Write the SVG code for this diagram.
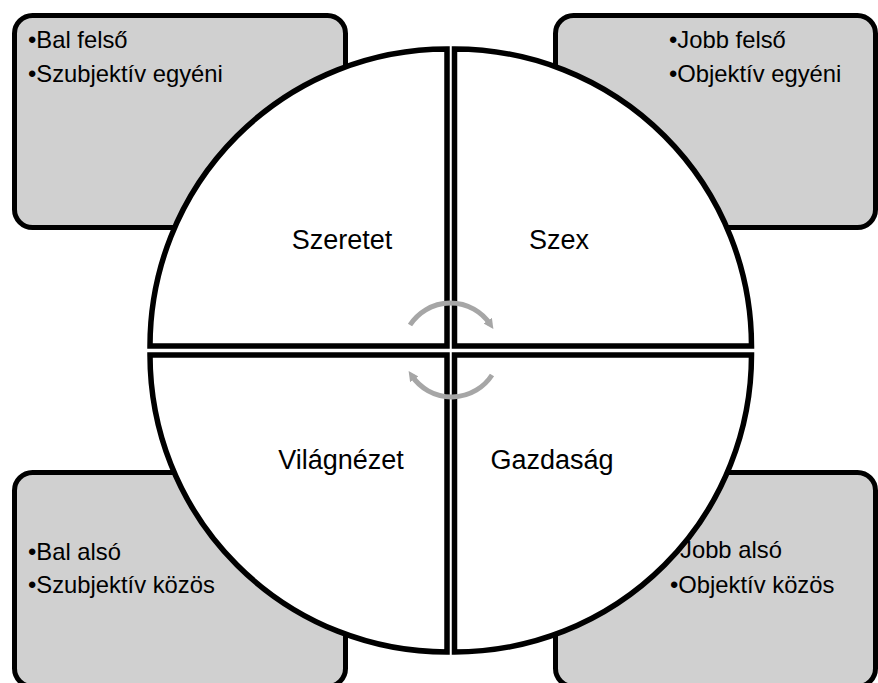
<svg xmlns="http://www.w3.org/2000/svg" width="878" height="683" viewBox="0 0 878 683">
<defs>
<style>
.box{fill:#d0d0d0;stroke:#000;stroke-width:5}
.quad{fill:#fff;stroke:#000;stroke-width:5.5;stroke-linejoin:miter}
.lbl{font-family:"Liberation Sans",Arial,sans-serif;font-size:27px;fill:#000;text-anchor:middle}
.bt{font-family:"Liberation Sans",Arial,sans-serif;font-size:23.8px;fill:#000}
.arc{fill:none;stroke:#a6a6a6;stroke-width:5}
</style>
<marker id="ah" viewBox="0 0 10 10" refX="4" refY="5" markerWidth="10" markerHeight="10" markerUnits="userSpaceOnUse" orient="auto">
<path d="M0,0 L10,5 L0,10 z" fill="#a6a6a6"/>
</marker>
</defs>
<rect width="878" height="683" fill="#fff"/>
<g id="box-tl"><rect class="box" x="14.5" y="15.5" width="331" height="212" rx="18"/></g>
<g id="box-tr"><rect class="box" x="555.5" y="15.5" width="320" height="212" rx="18"/></g>
<g id="box-bl"><rect class="box" x="14.5" y="472.5" width="331" height="214" rx="18"/></g>
<g id="box-br"><rect class="box" x="555.5" y="472.5" width="320" height="214" rx="18"/></g>
<g id="q-szeretet"><path class="quad" d="M447,346 H150 A297,297 0 0 1 447,49 Z"/><text class="lbl" x="342" y="249">Szeretet</text></g>
<g id="q-szex"><path class="quad" d="M454.5,346 V49 A297,297 0 0 1 751.5,346 Z"/><text class="lbl" x="559" y="249">Szex</text></g>
<g id="q-gazdasag"><path class="quad" d="M454.5,355 H751.5 A297,297 0 0 1 454.5,652 Z"/><text class="lbl" x="552" y="469">Gazdaság</text></g>
<g id="q-vilagnezet"><path class="quad" d="M447,355 V652 A297,297 0 0 1 150,355 Z"/><text class="lbl" x="341" y="469">Világnézet</text></g>
<g id="connectors">
<path class="arc" d="M410,325 A48,48 0 0 1 490,324" marker-end="url(#ah)"/>
<path class="arc" d="M492,375 A48,48 0 0 1 412,376" marker-end="url(#ah)"/>
</g>
<g id="text-tl"><text class="bt" x="28" y="48">•Bal felső</text><text class="bt" x="28" y="82">•Szubjektív egyéni</text></g>
<g id="text-tr"><text class="bt" x="669" y="48">•Jobb felső</text><text class="bt" x="669" y="82">•Objektív egyéni</text></g>
<g id="text-bl"><text class="bt" x="28" y="560">•Bal alsó</text><text class="bt" x="28" y="593">•Szubjektív közös</text></g>
<g id="text-br"><text class="bt" x="680" y="558">Jobb alsó</text><text class="bt" x="670" y="593">•Objektív közös</text></g>
</svg>
